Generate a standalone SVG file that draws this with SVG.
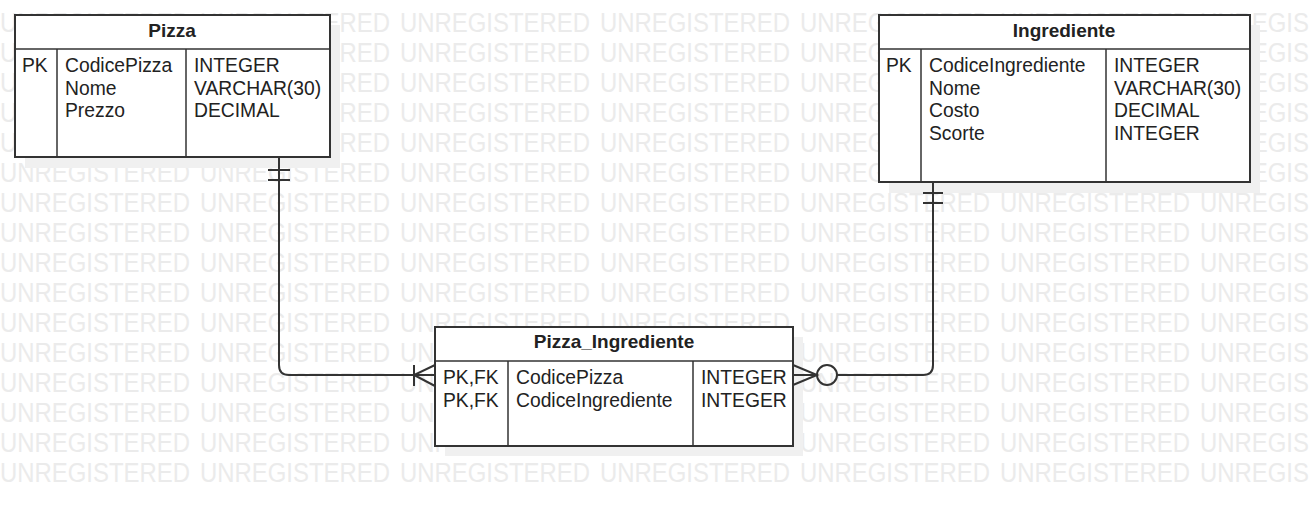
<svg xmlns="http://www.w3.org/2000/svg" xmlns:xlink="http://www.w3.org/1999/xlink" width="1309" height="507" viewBox="0 0 1309 507">
<style>
.wm{font-family:"Liberation Sans",Arial,sans-serif;font-size:27px;fill:#ebebeb}
.shadow{fill:#f0f0f0}
.box{fill:#fff;stroke:#333;stroke-width:2}
.div{stroke:#333;stroke-width:1.5;fill:none}
.t{font-family:"Liberation Sans",Arial,sans-serif;font-size:19.3px;fill:#222}
.h{font-family:"Liberation Sans",Arial,sans-serif;font-size:19px;font-weight:bold;fill:#222;text-anchor:middle}
.ln{stroke:#333;stroke-width:2;fill:none}
</style>
<defs>
<g id="wmrow">
<text class="wm" x="0" y="0" textLength="190" lengthAdjust="spacingAndGlyphs">UNREGISTERED</text>
<text class="wm" x="200" y="0" textLength="190" lengthAdjust="spacingAndGlyphs">UNREGISTERED</text>
<text class="wm" x="400" y="0" textLength="190" lengthAdjust="spacingAndGlyphs">UNREGISTERED</text>
<text class="wm" x="600" y="0" textLength="190" lengthAdjust="spacingAndGlyphs">UNREGISTERED</text>
<text class="wm" x="800" y="0" textLength="190" lengthAdjust="spacingAndGlyphs">UNREGISTERED</text>
<text class="wm" x="1000" y="0" textLength="190" lengthAdjust="spacingAndGlyphs">UNREGISTERED</text>
<text class="wm" x="1200" y="0" textLength="190" lengthAdjust="spacingAndGlyphs">UNREGISTERED</text>
</g>
</defs>
<rect width="1309" height="507" fill="#fff"/>
<g id="watermark">
<use xlink:href="#wmrow" y="32"/>
<use xlink:href="#wmrow" y="62"/>
<use xlink:href="#wmrow" y="92"/>
<use xlink:href="#wmrow" y="122"/>
<use xlink:href="#wmrow" y="152"/>
<use xlink:href="#wmrow" y="182"/>
<use xlink:href="#wmrow" y="212"/>
<use xlink:href="#wmrow" y="242"/>
<use xlink:href="#wmrow" y="272"/>
<use xlink:href="#wmrow" y="302"/>
<use xlink:href="#wmrow" y="332"/>
<use xlink:href="#wmrow" y="362"/>
<use xlink:href="#wmrow" y="392"/>
<use xlink:href="#wmrow" y="422"/>
<use xlink:href="#wmrow" y="452"/>
<use xlink:href="#wmrow" y="482"/>
</g>
<g id="shadows">
<rect class="shadow" x="25" y="25" width="315" height="143"/>
<rect class="shadow" x="889" y="25" width="371" height="168"/>
<rect class="shadow" x="445" y="337" width="358" height="119"/>
</g>
<g id="connectors">
<path class="ln" d="M279 157 V365 Q279 375 289 375 H435"/>
<line class="ln" x1="268" y1="170" x2="290" y2="170"/>
<line class="ln" x1="268" y1="180" x2="290" y2="180"/>
<line class="ln" x1="414" y1="365" x2="414" y2="386"/>
<path class="ln" d="M435 365 L414 375 L435 386"/>
<path class="ln" d="M933 182 V365 Q933 375 923 375 H837"/>
<line class="ln" x1="923" y1="193" x2="943" y2="193"/>
<line class="ln" x1="923" y1="203" x2="943" y2="203"/>
<circle class="ln" cx="827" cy="375" r="10" fill="#fff"/>
<path class="ln" d="M793 365 L817 375 L793 385 M793 375 H817"/>
</g>
<g id="pizza">
<rect class="box" x="15" y="15" width="315" height="142"/>
<line class="div" x1="15" y1="49" x2="330" y2="49"/>
<line class="div" x1="57" y1="49" x2="57" y2="157"/>
<line class="div" x1="186" y1="49" x2="186" y2="157"/>
<text class="h" x="172" y="37">Pizza</text>
<text class="t" x="22" y="72">PK</text>
<text class="t" x="65" y="72">CodicePizza</text>
<text class="t" x="65" y="94.5">Nome</text>
<text class="t" x="65" y="117">Prezzo</text>
<text class="t" x="194" y="72">INTEGER</text>
<text class="t" x="194" y="94.5">VARCHAR(30)</text>
<text class="t" x="194" y="117">DECIMAL</text>
</g>
<g id="ingrediente">
<rect class="box" x="879" y="15" width="371" height="167"/>
<line class="div" x1="879" y1="49" x2="1250" y2="49"/>
<line class="div" x1="921" y1="49" x2="921" y2="182"/>
<line class="div" x1="1106" y1="49" x2="1106" y2="182"/>
<text class="h" x="1064" y="37">Ingrediente</text>
<text class="t" x="886" y="72">PK</text>
<text class="t" x="929" y="72">CodiceIngrediente</text>
<text class="t" x="929" y="94.5">Nome</text>
<text class="t" x="929" y="117">Costo</text>
<text class="t" x="929" y="139.5">Scorte</text>
<text class="t" x="1114" y="72">INTEGER</text>
<text class="t" x="1114" y="94.5">VARCHAR(30)</text>
<text class="t" x="1114" y="117">DECIMAL</text>
<text class="t" x="1114" y="139.5">INTEGER</text>
</g>
<g id="pizza_ingrediente">
<rect class="box" x="435" y="327" width="358" height="119"/>
<line class="div" x1="435" y1="361" x2="793" y2="361"/>
<line class="div" x1="508" y1="361" x2="508" y2="446"/>
<line class="div" x1="693" y1="361" x2="693" y2="446"/>
<text class="h" x="614" y="348">Pizza_Ingrediente</text>
<text class="t" x="443" y="384">PK,FK</text>
<text class="t" x="443" y="406.5">PK,FK</text>
<text class="t" x="516" y="384">CodicePizza</text>
<text class="t" x="516" y="406.5">CodiceIngrediente</text>
<text class="t" x="701" y="384">INTEGER</text>
<text class="t" x="701" y="406.5">INTEGER</text>
</g>
</svg>
